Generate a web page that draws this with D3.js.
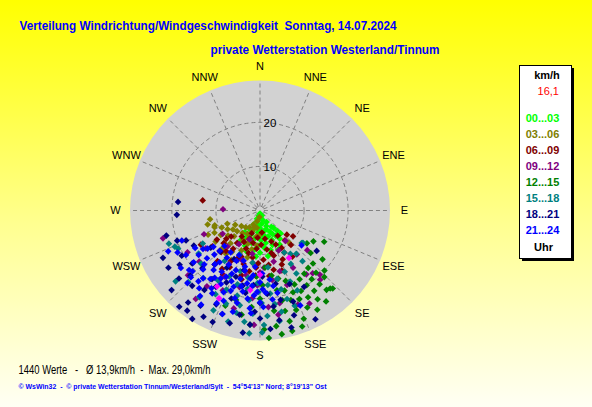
<!DOCTYPE html>
<html><head><meta charset="utf-8">
<script src="https://cdn.jsdelivr.net/npm/d3@7"></script>
<style>html,body{margin:0;padding:0;overflow:hidden;background:#fff} text{white-space:pre}</style>
</head><body>
<svg id="c" width="592" height="407"></svg>
<script>
// ---------- data ----------
const title = "Verteilung Windrichtung/Windgeschwindigkeit  Sonntag, 14.07.2024";
const subtitle = "private Wetterstation Westerland/Tinnum";
const footer1 = "1440 Werte   -   \u00d8 13,9km/h  -  Max. 29,0km/h";
const footer2 = "\u00a9 WsWin32  -  \u00a9 private Wetterstation Tinnum/Westerland/Sylt  -  54\u00b054'13\" Nord; 8\u00b019'13\" Ost";
const directions = ["N","NNE","NE","ENE","E","ESE","SE","SSE","S","SSW","SW","WSW","W","WNW","NW","NNW"];
const ringTicks = [10, 20];
const speedMax = 29.5;
const unitLabel = "km/h";
const currentValue = "16,1";
const hourLabels = ["00...03","03...06","06...09","09...12","12...15","15...18","18...21","21...24"];
const hourUnit = "Uhr";

// [direction in degrees, speed km/h]
const h00_03 = [[180,0.7],[175,1.5],[185,1.8],[165,2.2],[195,2.5],[150,3],[172,3],[188,3.3],[205,3.5],[158,3.8],[180,4],[196,4.2],[145,4.5],[168,4.7],[210,4.8],[185,5],[155,5.3],[175,5.6],[200,5.8],[140,6],[163,6.2],[190,6.4],[148,6.8],[178,6.8],[208,7],[158,7.2],[170,7.5],[195,7.6],[145,7.8],[183,8],[213,8],[160,8.3],[173,8.6],[203,8.7],[150,8.9],[188,9],[165,9.3],[180,9.6],[198,9.8],[155,9.8],[142,5],[152,6],[162,4.5],[170,5.8],[192,1.2],[160,1.2],[200,2],[215,6],[185,10.5],[170,10.5],[138,7]];
const h03_06 = [[185,1.5],[195,2.5],[190,4],[200,5],[188,6],[198,6.8],[205,3.5],[212,4.5],[220,5],[208,6],[218,6.5],[228,7],[235,7.5],[210,7.8],[225,8.3],[240,8.5],[200,8],[215,9],[232,9.2],[246,9.5],[222,10],[205,10],[238,10.5],[252,10.8],[228,11],[214,11.3],[244,11.5],[255,12.3],[235,12.3],[192,9],[185,8],[180,5.5],[195,11],[218,12.5],[248,8],[230,5.5],[240,6.5],[250,11],[210,13],[138,9.8],[198,4],[202,7],[225,12],[245,13],[260,11.5]];
const h06_09 = [[170,6.5],[185,6.2],[200,6.8],[215,7.2],[145,7],[160,7.5],[140,8.8],[155,8.5],[170,9],[185,8.7],[200,9.2],[215,9],[228,8.8],[138,10.5],[150,11],[163,10.7],[176,11.2],[189,10.8],[202,11.3],[215,10.6],[228,11.1],[236,11.8],[145,12.8],[158,13.2],[171,12.5],[184,13],[197,12.7],[210,13.3],[223,12.9],[233,13.5],[160,14.5],[172,15],[184,14.8],[196,15.3],[208,14.6],[220,15],[180,16.5],[195,16.2],[210,16.8],[280,13.2],[132,8.2],[128,9.5],[240,15.5],[178,7.8],[192,7.5],[207,8],[165,10],[195,10],[182,12],[205,12],[220,12],[150,9.8],[167,13.8],[190,14],[230,10],[175,5],[200,5.5],[155,12.2],[213,15.8]];
const h09_12 = [[272,8.4],[247,13.8],[254,22.9],[216,24.8],[144,17.9],[140,18.6],[139,20.8],[168,21.5],[152,23.9],[137,19.9],[190,10],[200,12],[210,14],[220,16],[230,18],[180,14],[170,16],[160,18],[150,15],[195,18],[205,20],[215,21],[225,13],[235,15],[240,19],[185,20],[175,22],[165,12],[155,10],[200,7],[212,9],[222,11],[192,15],[182,17],[140,13],[130,14],[158,23],[170,24],[208,17],[228,22],[238,10],[195,23],[183,26],[140,9],[188,12],[176,13],[162,14.5]];
const h12_15 = [[116,16.2],[138,23.8],[144,25.5],[165,28.3],[137,24.2],[140,17],[145,17.5],[150,18],[155,18.5],[160,17],[165,16],[170,15],[138,19],[143,19.5],[148,20],[153,20.5],[158,20],[163,19],[168,18.5],[136,21],[141,21.5],[146,22],[151,22.5],[156,22],[161,21.5],[166,21],[140,23.5],[147,24],[154,24.5],[160,24],[166,23.5],[172,23],[150,26],[158,26.5],[165,26],[172,26.5],[178,27],[185,26],[170,28.5],[160,28],[176,29],[130,15],[125,13],[120,14],[135,17],[128,18],[133,20],[180,20],[185,22],[190,24],[195,21],[178,17],[175,13],[183,15],[200,23]];
const h15_18 = [[247,21],[245,20.5],[250,22],[185,28],[179,27.7],[196,26.2],[127,12.2],[140,12.8],[193,23.8],[128,12],[150,14],[158,15],[166,16],[174,17],[182,16.5],[190,15.5],[198,14.5],[150,16.5],[157,17.5],[165,18.5],[173,19],[181,18.5],[189,18],[197,17.5],[205,16.5],[155,20],[163,21],[171,21.5],[179,21],[187,20.5],[195,20],[203,19.5],[211,18.5],[160,23],[168,23.5],[176,24],[184,23.5],[192,22],[200,22.5],[208,21.5],[170,25.5],[178,26],[188,25.5],[205,25],[215,24],[220,20],[228,18],[235,17],[240,15],[215,14],[225,23],[230,25],[145,12],[140,15],[150,11],[172,13],[188,12],[205,11]];
const h18_21 = [[276,18.7],[267,18.9],[244,24.5],[216,28.1],[208,27.3],[125.5,15.8],[153,27.7],[248,18.1],[167,20.8],[227,21.6],[236,22],[232,19.5],[240,20.5],[222,23],[230,24],[238,24.5],[225,18.5],[191,24.1],[170,25.3],[180,24.5],[185,26],[175,27],[195,26.5],[200,25],[188,28],[165,27.5],[205,23.5],[210,20],[215,22],[205,18],[200,16],[195,14],[210,15],[220,16],[190,19],[185,17],[180,21],[175,19],[168,17],[172,22],[160,22],[162,25],[212,25.5],[218,26.5],[228,27],[220,28.5],[212,29],[242,17],[250,20],[255,22],[233,14],[224,13],[198,21],[203,27.5],[183,23],[193,17.5],[178,15],[215,19],[208,12.5],[158,18],[150,20]];
const h21_24 = [[205,11.2],[215,11.6],[225,11.4],[185,12.8],[195,13.2],[205,12.6],[215,13.1],[225,12.9],[232,13.4],[178,14.3],[186,14.8],[194,14.1],[202,14.6],[210,14.2],[218,14.9],[226,14.4],[234,14.7],[172,15.8],[180,16.3],[188,15.6],[196,16.1],[204,15.7],[212,16.4],[220,15.9],[228,16.2],[236,15.6],[170,17.4],[178,17.9],[186,17.2],[194,17.7],[202,17.3],[210,17.8],[218,17.1],[226,17.6],[234,17.2],[168,19.1],[176,18.7],[184,19.3],[192,18.8],[200,19.4],[208,18.9],[216,19.2],[224,18.6],[232,19.1],[172,20.4],[180,20.9],[188,20.2],[196,20.7],[204,20.3],[212,20.8],[220,20.1],[228,20.6],[178,21.9],[186,22.3],[194,21.6],[202,22.1],[210,21.7],[218,22.4],[226,21.8],[234,22.2],[185,23.4],[195,23.8],[205,23.2],[215,23.7],[225,23.3],[200,25],[212,25.2],[249,19],[246,22.8],[157,23.4],[130,12.3],[240,17],[243,21],[190,16.8],[207,16.9],[199,18.3],[214,18.4],[182,18.5],[221,21.3],[198,12],[230,21],[239,19.6]];
const highlight = [[209.5,19.8],[187,18.2],[180,14.6],[148.6,12.6],[205,22]];
const hourGroups = [h00_03,h03_06,h06_09,h09_12,h12_15,h15_18,h18_21,h21_24];

// ---------- drawing ----------
const svg = d3.select("#c");
const W = 592, H = 407;
const cx = 260, cy = 210.5;
const font = "'Liberation Sans', Arial, sans-serif";

const defs = svg.append("defs");
const grad = defs.append("linearGradient").attr("id","bg").attr("x1",0).attr("y1",0).attr("x2",0).attr("y2",1);
grad.append("stop").attr("offset","0%").attr("stop-color","#ffff00");
grad.append("stop").attr("offset","55%").attr("stop-color","#ffff90");
grad.append("stop").attr("offset","100%").attr("stop-color","#fffff4");
svg.append("rect").attr("width",W).attr("height",H).attr("fill","url(#bg)");

const r = d3.scaleLinear().domain([0, speedMax]).range([0, 130]);
const colour = d3.scaleOrdinal().domain(hourLabels)
  .range(["#00ff00","#808000","#800000","#800080","#008000","#008080","#000080","#0000ff"]);
const ang = d => d * Math.PI / 180;
const px = (dir, s) => cx + r(s) * Math.sin(ang(dir));
const py = (dir, s) => cy - r(s) * Math.cos(ang(dir));

const g = svg.append("g");
g.append("circle").attr("cx",cx).attr("cy",cy).attr("r",r(speedMax)).attr("fill","#d2d2d2");

// spokes
const dirScale = d3.scaleLinear().domain([0, directions.length]).range([0, 360]);
g.selectAll("line.spoke").data(directions).join("line")
  .attr("x1",(d,i)=>px(dirScale(i),0.9)).attr("y1",(d,i)=>py(dirScale(i),0.9))
  .attr("x2",(d,i)=>px(dirScale(i),speedMax)).attr("y2",(d,i)=>py(dirScale(i),speedMax))
  .attr("stroke","#808080").attr("stroke-width",1).attr("stroke-dasharray","4,3");
g.selectAll("circle.ring").data([1].concat(ringTicks)).join("circle")
  .attr("cx",cx).attr("cy",cy).attr("r",d=>r(d))
  .attr("fill","none").attr("stroke","#808080").attr("stroke-width",1).attr("stroke-dasharray","4,3");
g.selectAll("text.ring").data(ringTicks).join("text")
  .attr("x",cx+3.5).attr("y",d=>cy-r(d)).attr("dy","0.36em")
  .attr("font-family",font).attr("font-size",11.5).attr("fill","#000").text(d=>d);

// compass labels
g.selectAll("text.dir").data(directions).join("text")
  .attr("x",(d,i)=>px(dirScale(i),speedMax+3.3)).attr("y",(d,i)=>py(dirScale(i),speedMax+3.3))
  .attr("dy","0.36em").attr("text-anchor","middle")
  .attr("font-family",font).attr("font-size",11).attr("fill","#000").text(d=>d);

// points
const diamond = d3.symbol().type(d3.symbolDiamond2).size(28);
hourGroups.forEach((grp, k) => {
  g.append("g").selectAll("path").data(grp).join("path")
    .attr("d", diamond)
    .attr("transform", d => `translate(${px(d[0],d[1])},${py(d[0],d[1])})`)
    .attr("fill", colour(hourLabels[k]));
});
g.append("g").selectAll("path").data(highlight).join("path")
  .attr("d", diamond)
  .attr("transform", d => `translate(${px(d[0],d[1])},${py(d[0],d[1])})`)
  .attr("fill", "#ff00ff");

// titles
svg.append("text").attr("x",19.5).attr("y",30).attr("font-family",font).attr("font-weight","bold")
  .attr("font-size",13).attr("fill","#0000ff").attr("textLength",377).attr("lengthAdjust","spacingAndGlyphs").text(title);
svg.append("text").attr("x",210.5).attr("y",54).attr("font-family",font).attr("font-weight","bold")
  .attr("font-size",13).attr("fill","#0000ff").attr("textLength",229).attr("lengthAdjust","spacingAndGlyphs").text(subtitle);

// legend
const lx = 519, ly = 65, lw = 52, lh = 193;
svg.append("rect").attr("x",lx+3).attr("y",ly+3).attr("width",lw).attr("height",lh).attr("fill","#000");
svg.append("rect").attr("x",lx+0.5).attr("y",ly+0.5).attr("width",lw).attr("height",lh).attr("fill","#fff").attr("stroke","#000");
svg.append("text").attr("x",547).attr("y",75.5).attr("dy","0.36em").attr("text-anchor","middle")
  .attr("font-family",font).attr("font-weight","bold").attr("font-size",11).text(unitLabel);
svg.append("text").attr("x",559).attr("y",91).attr("dy","0.36em").attr("text-anchor","end")
  .attr("font-family",font).attr("font-size",11).attr("fill","#ff0000").text(currentValue);
const ly0 = d3.scaleLinear().domain([0,1]).range([117.7, 133.8]);
svg.selectAll("text.leg").data(hourLabels).join("text")
  .attr("x",542.5).attr("y",(d,i)=>ly0(i)).attr("dy","0.36em").attr("text-anchor","middle")
  .attr("font-family",font).attr("font-weight","bold").attr("font-size",11)
  .attr("fill",d=>colour(d)).text(d=>d);
svg.append("text").attr("x",543.5).attr("y",246.7).attr("dy","0.36em").attr("text-anchor","middle")
  .attr("font-family",font).attr("font-weight","bold").attr("font-size",11).text(hourUnit);

// footer
svg.append("text").attr("x",18.5).attr("y",373.5).attr("font-family",font).attr("font-size",12)
  .attr("fill","#000").attr("textLength",192).attr("lengthAdjust","spacingAndGlyphs").text(footer1);
svg.append("text").attr("x",18.5).attr("y",388.5).attr("font-family",font).attr("font-weight","bold").attr("font-size",8)
  .attr("fill","#0000ff").attr("textLength",308).attr("lengthAdjust","spacingAndGlyphs").text(footer2);
</script>
</body></html>
